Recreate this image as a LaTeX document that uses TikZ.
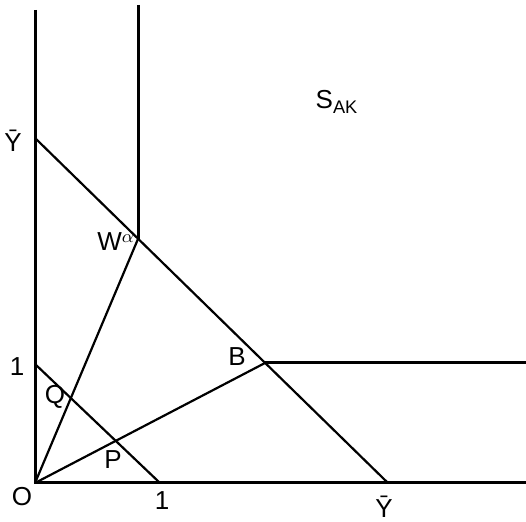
\documentclass[tikz,border=0pt]{standalone}
\usepackage{fontspec}
\setmainfont{Liberation Sans}
\tikzset{
  axisline/.style = {line width=1.5pt},
  budline/.style  = {line width=1.1pt},
  lbl/.style      = {font=\fontsize{13}{15}\selectfont,inner sep=0pt}
}
\begin{document}
\begin{tikzpicture}[x=0.5pt,y=-0.5pt]
  \useasboundingbox (0,0) rectangle (526,522);
  \coordinate (O)    at (35,483);
  \coordinate (ytop) at (35,10);
  \coordinate (xend) at (526,483);
  \coordinate (Ybar) at (35,138);
  \coordinate (Xbar) at (388,483);
  \coordinate (oney) at (35,364);
  \coordinate (onex) at (160,483);
  \coordinate (W)    at (138,239);
  \coordinate (Wtop) at (138,5);
  \coordinate (B)    at (265,363);
  \coordinate (Bend) at (526,363);
  \coordinate (Q) at (intersection of O--W and oney--onex);
  \coordinate (P) at (intersection of O--B and oney--onex);
  % axes and corner lines
  \draw[axisline] (ytop) -- (O) -- (xend);
  \draw[axisline] (Wtop) -- (W);
  \draw[axisline] (B) -- (Bend);
  % budget lines and rays
  \draw[budline] (Ybar) -- (Xbar);
  \draw[budline] (oney) -- (onex);
  \draw[budline] (O) -- (W);
  \draw[budline] (O) -- (B);
  % labels
  \node[lbl] (lO)    at (22,497)  {O};
  \node[lbl] (loney) at (17,367)  {1};
  \node[lbl] (lonex) at (162,501) {1};
  \node[lbl] (lYbar) at (13,141)  {\=Y};
  \node[lbl] (lXbar) at (384,507) {\=Y};
  \node[lbl] (lQ)    at (55,397)  {Q};
  \node[lbl] (lP)    at (113,460) {P};
  \node[lbl] (lB)    at (237,357) {B};
  \node[lbl] (lW)    at (116,242) {W\textsuperscript{$\alpha$}};
  \node[lbl] (lS)    at (337,102) {S\textsubscript{AK}};
\end{tikzpicture}
\end{document}
